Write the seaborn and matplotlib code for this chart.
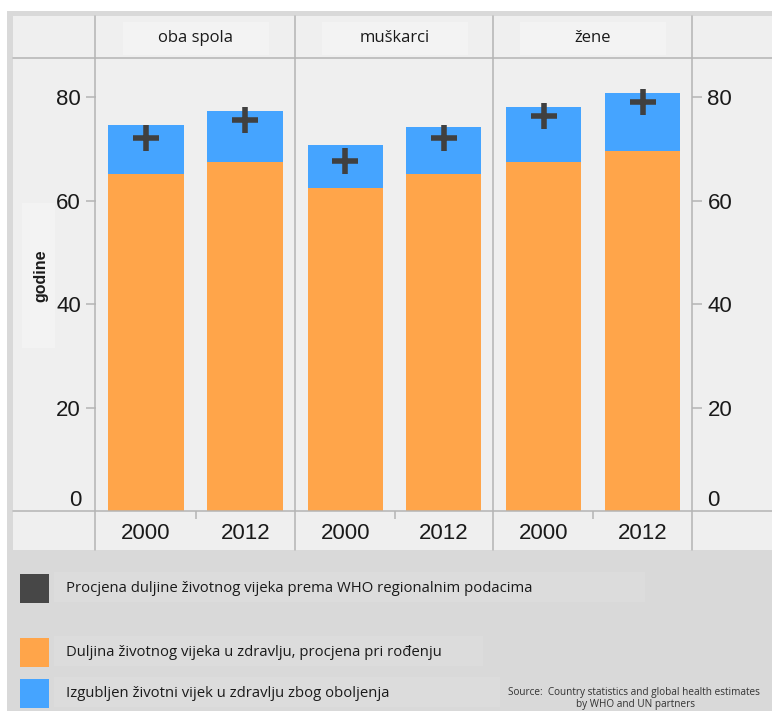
import matplotlib
matplotlib.use("Agg")
import matplotlib.pyplot as plt
from matplotlib.patches import Rectangle
from matplotlib.lines import Line2D
import seaborn as sns
import pandas as pd

# ---- data -------------------------------------------------------------
sexes = ["oba spola", "muškarci", "žene"]
years = ["2000", "2012"]
life_expectancy = [[74.6, 77.3], [70.8, 74.2], [78.2, 80.8]]   # total bar height
healthy_life = [[65.2, 67.4], [62.4, 65.2], [67.4, 69.7]]      # orange part
regional_estimate = [[72.1, 75.6], [67.7, 72.1], [76.3, 79.0]]  # WHO regional marker
y_ticks = [0, 20, 40, 60, 80]

legend_labels = [
    "Procjena duljine životnog vijeka prema WHO regionalnim podacima",
    "Duljina životnog vijeka u zdravlju, procjena pri rođenju",
    "Izgubljen životni vijek u zdravlju zbog oboljenja",
]
source_lines = ["Source:  Country statistics and global health estimates",
                "by WHO and UN partners"]

rows = []
for i, s in enumerate(sexes):
    for j, yr in enumerate(years):
        rows.append(dict(sex=s, year=yr, total=life_expectancy[i][j],
                         healthy=healthy_life[i][j],
                         regional=regional_estimate[i][j]))
df = pd.DataFrame(rows)

# ---- style ------------------------------------------------------------
sns.set_theme(style="white")
plt.rcParams["font.family"] = ["Liberation Sans", "DejaVu Sans"]

ORANGE = "#FFA54A"
BLUE = "#45A4FF"
DARK = "#404040"
PANEL = "#efefef"
OUTER = "#d9d9d9"
GRID = "#b4b4b4"
TEXT = "#1a1a1a"

W, H = 772, 711
fig = plt.figure(figsize=(W / 100, H / 100), dpi=100, facecolor="white")


def frac_rect(x0, y0, x1, y1):
    return [x0 / W, 1 - y1 / H, (x1 - x0) / W, (y1 - y0) / H]


def fig_rect(x0, y0, x1, y1, color, z=0):
    fig.patches.append(Rectangle((x0 / W, 1 - y1 / H), (x1 - x0) / W, (y1 - y0) / H,
                                 transform=fig.transFigure, facecolor=color,
                                 edgecolor="none", zorder=z))


def fig_line(x0, y0, x1, y1, color=GRID, lw=1.1):
    fig.lines.append(Line2D([x0 / W, x1 / W], [1 - y0 / H, 1 - y1 / H],
                            transform=fig.transFigure, color=color, lw=lw, zorder=20))


# frame and table background
fig_rect(7, 11, W, H, OUTER)
fig_rect(13, 16, W, 550, PANEL)
# soft boxes behind the strip titles and the y label
for cx in (195.5, 394.5, 593):
    fig_rect(cx - 73, 22, cx + 73, 55, "#f3f3f3", 1)
fig_rect(22, 203, 55, 348, "#f3f3f3", 1)

# table grid lines
for x in (95, 295, 493, 692):
    fig_line(x, 16, x, 550)
fig_line(13, 58, W, 58)
fig_line(13, 510.5, W, 510.5)

panel_x = [(96, 295), (296, 493), (494, 692)]
y_top, y_bot = 58, 511
ymax = 87.6

for k, (sex, (x0, x1)) in enumerate(zip(sexes, panel_x)):
    ax = fig.add_axes(frac_rect(x0, y_top, x1, y_bot), zorder=10)
    ax.set_facecolor("none")
    sub = df[df["sex"] == sex]
    sns.barplot(data=sub, x="year", y="total", order=years, color=BLUE,
                saturation=1, width=0.76, errorbar=None, linewidth=0,
                edgecolor="none", ax=ax)
    sns.barplot(data=sub, x="year", y="healthy", order=years, color=ORANGE,
                saturation=1, width=0.76, errorbar=None, linewidth=0,
                edgecolor="none", ax=ax)
    sns.stripplot(data=sub, x="year", y="regional", order=years, color=DARK,
                  marker="+", size=19, linewidth=4.0, jitter=False, ax=ax,
                  zorder=5)
    ax.set_xlim(-0.5, 1.5)
    ax.set_ylim(0, ymax)
    ax.set_xlabel("")
    ax.set_ylabel("")
    for sp in ax.spines.values():
        sp.set_visible(False)

    ax.tick_params(axis="x", which="major", bottom=False, length=0, pad=8.5,
                   labelsize=16, labelcolor=TEXT)
    ax.set_xticks([0.5], minor=True)
    ax.tick_params(axis="x", which="minor", bottom=True, length=6, width=1.1,
                   color=GRID, direction="out", pad=2)

    ax.set_yticks(y_ticks)
    ax.set_yticklabels([str(t) for t in y_ticks])
    if k == 0:
        ax.tick_params(axis="y", left=True, right=False, labelleft=True,
                       labelright=False, length=7.2, width=1.1, color=GRID,
                       pad=3.6, labelsize=16, labelcolor=TEXT)
        ax.set_ylabel("godine", fontsize=11.5, fontweight="bold", color=TEXT)
        ax.yaxis.set_label_coords((48 - x0) / (x1 - x0), (y_bot - 276) / (y_bot - y_top))
        zt = ax.yaxis.get_major_ticks()[0]
        zt.tick1line.set_visible(False)
        zt.label1.set_va("bottom")
    elif k == 2:
        ax.yaxis.tick_right()
        ax.tick_params(axis="y", left=False, right=True, labelleft=False,
                       labelright=True, length=7.5, width=1.1, color=GRID,
                       pad=3.6, labelsize=16, labelcolor=TEXT)
        zt = ax.yaxis.get_major_ticks()[0]
        zt.tick2line.set_visible(False)
        zt.label2.set_va("bottom")
    else:
        ax.tick_params(axis="y", left=False, right=False, labelleft=False,
                       labelright=False)

    # strip title
    fig.text((x0 + x1) / 2 / W, 1 - 38 / H, sex, ha="center", va="center",
             fontsize=12, color=TEXT, family=["Open Sans", "DejaVu Sans"])

# ---- legend -----------------------------------------------------------
legend_colors = ["#474747", ORANGE, BLUE]
legend_rows = [(574, 603), (638, 667), (679, 708)]
legend_box_right = [645, 483, 500]
for lab, col, (ya, yb), bx in zip(legend_labels, legend_colors, legend_rows,
                                  legend_box_right):
    fig_rect(54, ya - 2, bx, yb - 1, "#dcdcdc", 1)
    fig_rect(20, ya, 49, yb, col, 2)
    fig.text(66 / W, 1 - (ya + yb) / 2 / H, lab, ha="left", va="center",
             fontsize=10.7, color=TEXT, family=["Open Sans", "DejaVu Sans"],
             zorder=3)

fig.text(508 / W, 1 - 693 / H, source_lines[0], ha="left", va="center",
         fontsize=7.2, color="#333333", family=["Open Sans", "DejaVu Sans"])
fig.text(636 / W, 1 - 705 / H, source_lines[1], ha="center", va="center",
         fontsize=7.2, color="#333333", family=["Open Sans", "DejaVu Sans"])

fig.savefig("out.png", dpi=100, facecolor="white")
